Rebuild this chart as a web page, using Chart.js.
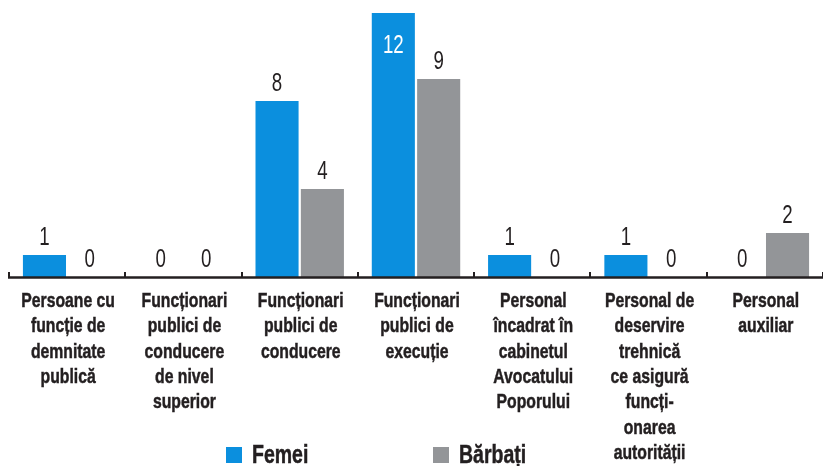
<!DOCTYPE html>
<html>
<head>
<meta charset="utf-8">
<script src="https://cdn.jsdelivr.net/npm/chart.js@4/dist/chart.umd.min.js"></script>
<style>
  html, body { margin: 0; padding: 0; background: #fff; }
  #wrap { width: 823px; height: 466px; position: relative; }
</style>
</head>
<body>
<div id="wrap"><canvas id="grafic"></canvas></div>
<script>
// date
const categorii = [
  ['Persoane cu', 'funcție de', 'demnitate', 'publică'],
  ['Funcționari', 'publici de', 'conducere', 'de nivel', 'superior'],
  ['Funcționari', 'publici de', 'conducere'],
  ['Funcționari', 'publici de', 'execuție'],
  ['Personal', 'încadrat în', 'cabinetul', 'Avocatului', 'Poporului'],
  ['Personal de', 'deservire', 'trehnică', 'ce asigură', 'funcți-', 'onarea', 'autorității'],
  ['Personal', 'auxiliar']
];
const femei = [1, 0, 8, 12, 1, 1, 0];
const barbati = [0, 0, 4, 9, 0, 0, 2];
const numeSerii = ['Femei', 'Bărbați'];
const culori = ['#0B8FDE', '#939598'];

const textInchis = '#231F20';
const fontBaza = '"Liberation Sans", Arial, sans-serif';

// scrie text ingustat pe orizontala (fontul original e condensat)
function textIngust(ctx, text, x, y, sx, ingrosare) {
  ctx.save();
  ctx.translate(x, y);
  ctx.scale(sx, 1);
  ctx.fillText(text, 0, 0);
  if (ingrosare) {
    ctx.strokeStyle = ctx.fillStyle;
    ctx.lineWidth = ingrosare;
    ctx.strokeText(text, 0, 0);
  }
  ctx.restore();
}

// etichete cu valori deasupra barelor (12 intra in bara, alb)
const pluginValori = {
  id: 'valori',
  afterDatasetsDraw(chart) {
    const ctx = chart.ctx;
    ctx.save();
    ctx.font = '26px ' + fontBaza;
    ctx.textAlign = 'center';
    ctx.textBaseline = 'alphabetic';
    chart.data.datasets.forEach((ds, i) => {
      chart.getDatasetMeta(i).data.forEach((bar, j) => {
        const v = ds.data[j];
        if (bar.y - 10 - 18 < 0) {
          ctx.fillStyle = '#fff';
          textIngust(ctx, v, bar.x, bar.y + 40, 0.72);
        } else {
          ctx.fillStyle = textInchis;
          textIngust(ctx, v, bar.x, bar.y - 10, 0.72);
        }
      });
    });
    ctx.restore();
  }
};

// axa de jos + liniute mici intre categorii + etichetele categoriilor
const pluginAxa = {
  id: 'axa',
  afterDatasetsDraw(chart) {
    const ctx = chart.ctx;
    const x = chart.scales.x;
    const jos = chart.chartArea.bottom;
    const pas = x.getPixelForValue(1) - x.getPixelForValue(0);
    ctx.save();
    ctx.strokeStyle = textInchis;
    ctx.lineWidth = 2.5;
    ctx.beginPath();
    ctx.moveTo(chart.chartArea.left - 1, jos + 0.5);
    ctx.lineTo(chart.width, jos + 0.5);
    ctx.stroke();
    ctx.lineWidth = 2;
    for (let i = 0; i <= categorii.length; i++) {
      const px = Math.round(x.getPixelForValue(0) - pas / 2 + i * pas);
      ctx.beginPath();
      ctx.moveTo(px, jos - 5);
      ctx.lineTo(px, jos);
      ctx.stroke();
    }
    ctx.fillStyle = textInchis;
    ctx.font = 'bold 21px ' + fontBaza;
    ctx.textAlign = 'center';
    ctx.textBaseline = 'alphabetic';
    categorii.forEach((linii, i) => {
      const cx = x.getPixelForValue(i) + 1;
      linii.forEach((linie, k) => {
        textIngust(ctx, linie, cx, jos + 30 + k * 25.3, 0.75, 0.5);
      });
    });
    ctx.restore();
  }
};

// legenda jos
const pluginLegenda = {
  id: 'legenda',
  afterDraw(chart) {
    const ctx = chart.ctx;
    const pozitii = [226, 433];
    ctx.save();
    ctx.font = 'bold 26px ' + fontBaza;
    ctx.textBaseline = 'alphabetic';
    ctx.textAlign = 'left';
    numeSerii.forEach((nume, i) => {
      ctx.fillStyle = culori[i];
      ctx.fillRect(pozitii[i], 447, 16, 16);
      ctx.fillStyle = textInchis;
      textIngust(ctx, nume, pozitii[i] + 26, 463, 0.75, 0.5);
    });
    ctx.restore();
  }
};

new Chart(document.getElementById('grafic'), {
  type: 'bar',
  data: {
    labels: categorii,
    datasets: [
      { label: numeSerii[0], data: femei, backgroundColor: culori[0] },
      { label: numeSerii[1], data: barbati, backgroundColor: culori[1] }
    ]
  },
  options: {
    responsive: true,
    maintainAspectRatio: false,
    animation: false,
    events: [],
    categoryPercentage: 0.78,
    barPercentage: 0.95,
    layout: { padding: { top: 13, left: 9, right: 0, bottom: 0 } },
    plugins: {
      legend: { display: false },
      tooltip: { enabled: false }
    },
    scales: {
      y: { display: false, min: 0, max: 12 },
      x: {
        afterFit: (scale) => { scale.height = 189; },
        grid: { display: false, drawTicks: false },
        border: { display: false },
        ticks: { display: false }
      }
    }
  },
  plugins: [pluginValori, pluginAxa, pluginLegenda]
});
</script>
</body>
</html>
